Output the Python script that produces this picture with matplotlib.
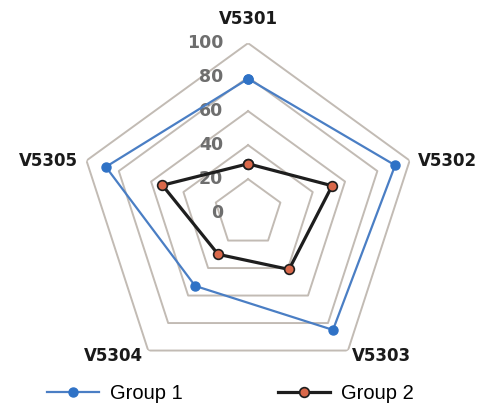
import numpy as np
import matplotlib
matplotlib.use("Agg")
import matplotlib.pyplot as plt

categories = ["V5301", "V5302", "V5303", "V5304", "V5305"]
group1 = [79, 91, 85, 53, 88]
group2 = [29, 52, 41, 30, 53]
rings = [20, 40, 60, 80, 100]
ring_labels = ["0", "20", "40", "60", "80", "100"]

plt.rcParams["font.family"] = ["Liberation Sans", "DejaVu Sans"]

n = len(categories)
# clockwise from top
theta = np.pi / 2 - np.arange(n) * 2 * np.pi / n
theta_c = np.append(theta, theta[0])

fig = plt.figure(figsize=(4.85, 4.07), dpi=100)
ax = fig.add_axes([0.161, 0.059, 0.701, 0.835], projection="polar")
ax.set_ylim(0, 100)
ax.grid(False)
ax.spines["polar"].set_visible(False)
ax.set_xticks([])
ax.set_yticks([])
ax.patch.set_alpha(0)

# pentagon grid
for r in rings:
    ax.plot(theta_c, [r] * (n + 1), color="#c2bbb4", lw=1.4, zorder=1)

# radial tick labels left of the vertical axis
for i, lab in enumerate(ring_labels):
    ax.annotate(lab, xy=(np.pi / 2, i * 20), xytext=(-18, 0),
                textcoords="offset points", ha="right", va="center",
                fontsize=12.5, fontweight="bold", color="#6e6e6e",
                family="DejaVu Sans", zorder=2)

ax.plot(theta_c, group1 + group1[:1], color="#4a7ec4", lw=1.6,
        marker="o", markersize=6.5, markerfacecolor="#2f72c6",
        markeredgecolor="#2f72c6", label="Group 1", zorder=3)
ax.plot(theta_c, group2 + group2[:1], color="#1e1e1e", lw=2.3,
        marker="o", markersize=7, markerfacecolor="#d9684a",
        markeredgecolor="#1e1e1e", markeredgewidth=1.2,
        label="Group 2", zorder=4)

# category labels outside vertices
offsets = [((0, 11), "center", "bottom"),
           ((6, 0), "left", "center"),
           ((3, -4), "left", "center"),
           ((-4, -4), "right", "center"),
           ((-6, 0), "right", "center")]
for t, cat, (off, ha, va) in zip(theta, categories, offsets):
    ax.annotate(cat, xy=(t, 100), xytext=off, textcoords="offset points",
                ha=ha, va=va, fontsize=12, fontweight="bold", color="#1a1a1a",
                family="DejaVu Sans")

fig.legend(loc="center", bbox_to_anchor=(0.475, 0.034), ncol=2,
           frameon=False, fontsize=14.5, handlelength=2.6, columnspacing=4.7,
           handletextpad=0.55, borderpad=0, borderaxespad=0)

fig.savefig("out.png", dpi=100)
